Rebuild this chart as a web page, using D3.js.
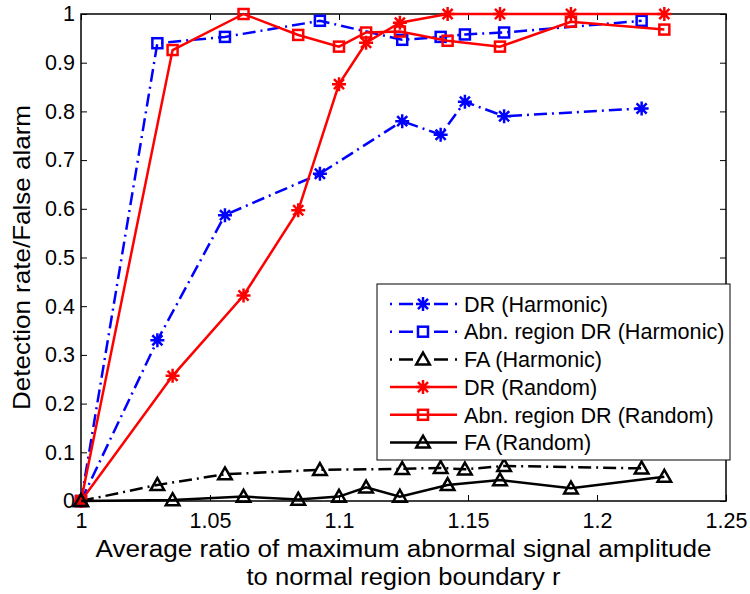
<!DOCTYPE html>
<html>
<head>
<meta charset="utf-8">
<script src="https://cdn.jsdelivr.net/npm/d3@7"></script>
<style>
  body { margin: 0; background: #fff; }
  text { font-family: "Liberation Sans", Arial, sans-serif; fill: #000; }
</style>
</head>
<body>
<div id="plot"></div>
<script>
// ---------------- data ----------------
const xHarmonic = [1, 1.0296, 1.0558, 1.0926, 1.1245, 1.1394, 1.1488, 1.164, 1.2173];
const drHarmonic = [0, 0.33, 0.587, 0.672, 0.78, 0.752, 0.82, 0.79, 0.806];
const abnHarmonic = [0, 0.94, 0.953, 0.986, 0.947, 0.953, 0.958, 0.962, 0.986];
const faHarmonic = [0, 0.033, 0.055, 0.064, 0.066, 0.068, 0.065, 0.072, 0.067];

const xRandom = [1, 1.0355, 1.063, 1.0842, 1.1, 1.1105, 1.1236, 1.1421, 1.1624, 1.1899, 1.2261];
const drRandom = [0, 0.257, 0.422, 0.597, 0.856, 0.941, 0.982, 1, 1, 1, 1];
const abnRandom = [0, 0.926, 1.0, 0.957, 0.933, 0.962, 0.964, 0.945, 0.933, 0.984, 0.968];
const faRandom = [0, 0.002, 0.009, 0.003, 0.009, 0.028, 0.009, 0.033, 0.043, 0.026, 0.05];

const xTicks = [1, 1.05, 1.1, 1.15, 1.2, 1.25];
const yTicks = [0, 0.1, 0.2, 0.3, 0.4, 0.5, 0.6, 0.7, 0.8, 0.9, 1];

const seriesNames = ["DR (Harmonic)", "Abn. region DR (Harmonic)", "FA (Harmonic)",
                     "DR (Random)", "Abn. region DR (Random)", "FA (Random)"];

const series = [
  {name: seriesNames[0], xs: xHarmonic, ys: drHarmonic, color: "#0000ff", dash: "13,5,2,5", marker: "star"},
  {name: seriesNames[1], xs: xHarmonic, ys: abnHarmonic, color: "#0000ff", dash: "13,5,2,5", marker: "square"},
  {name: seriesNames[2], xs: xHarmonic, ys: faHarmonic, color: "#000000", dash: "13,5,2,5", marker: "triangle"},
  {name: seriesNames[3], xs: xRandom, ys: drRandom, color: "#ff0000", dash: null, marker: "star"},
  {name: seriesNames[4], xs: xRandom, ys: abnRandom, color: "#ff0000", dash: null, marker: "square"},
  {name: seriesNames[5], xs: xRandom, ys: faRandom, color: "#000000", dash: null, marker: "triangle"}
];

// ---------------- plot ----------------
const w = 750, h = 594;
const mLeft = 81, mRight = 726, mTop = 14, mBottom = 501;

const x = d3.scaleLinear().domain([1, 1.25]).range([mLeft, mRight]);
const y = d3.scaleLinear().domain([0, 1]).range([mBottom, mTop]);

const svg = d3.select("#plot").append("svg")
  .attr("width", w).attr("height", h);

// axes (ticks inside, box on)
const fmt = d => String(+d.toFixed(2));
svg.append("g").attr("transform", "translate(0," + mBottom + ")")
  .call(d3.axisBottom(x).tickValues(xTicks).tickSize(-6).tickPadding(12).tickFormat(fmt))
  .call(g => g.select(".domain").remove());
svg.append("g").attr("transform", "translate(" + mLeft + ",0)")
  .call(d3.axisLeft(y).tickValues(yTicks).tickSize(-6).tickPadding(6).tickFormat(fmt))
  .call(g => g.select(".domain").remove());
svg.append("g").attr("transform", "translate(0," + mTop + ")")
  .call(d3.axisTop(x).tickValues(xTicks).tickSize(-6).tickFormat(""))
  .call(g => g.select(".domain").remove());
svg.append("g").attr("transform", "translate(" + mRight + ",0)")
  .call(d3.axisRight(y).tickValues(yTicks).tickSize(-6).tickFormat(""))
  .call(g => g.select(".domain").remove());
svg.selectAll(".tick line").attr("stroke", "#000").attr("stroke-width", 1);
svg.selectAll(".tick text").attr("font-size", 21.5).attr("font-family", "Liberation Sans, Arial, sans-serif");

svg.append("rect")
  .attr("x", mLeft).attr("y", mTop)
  .attr("width", mRight - mLeft).attr("height", mBottom - mTop)
  .attr("fill", "none").attr("stroke", "#000").attr("stroke-width", 1.5);

// markers
function drawMarker(g, type, cx, cy, color) {
  if (type === "star") {
    const r = 7, d = r * 0.72;
    const p = `M${cx - r},${cy}L${cx + r},${cy}M${cx},${cy - r}L${cx},${cy + r}` +
              `M${cx - d},${cy - d}L${cx + d},${cy + d}M${cx - d},${cy + d}L${cx + d},${cy - d}`;
    g.append("path").attr("d", p).attr("stroke", color).attr("stroke-width", 2.5).attr("fill", "none");
  } else if (type === "square") {
    const s = 10;
    g.append("rect").attr("x", cx - s / 2).attr("y", cy - s / 2).attr("width", s).attr("height", s)
      .attr("fill", "none").attr("stroke", color).attr("stroke-width", 2.5);
  } else {
    const a = 6.8;
    g.append("path").attr("d", `M${cx},${cy - a}L${cx + a},${cy + a * 0.75}L${cx - a},${cy + a * 0.75}Z`)
      .attr("fill", "none").attr("stroke", color).attr("stroke-width", 2.5).attr("stroke-linejoin", "miter");
  }
}

const line = d3.line().x(d => x(d[0])).y(d => y(d[1]));

series.forEach(s => {
  const pts = s.xs.map((v, i) => [v, s.ys[i]]);
  const g = svg.append("g");
  g.append("path").datum(pts)
    .attr("d", line)
    .attr("fill", "none")
    .attr("stroke", s.color)
    .attr("stroke-width", 2.5)
    .attr("stroke-dasharray", s.dash);
  pts.forEach(p => drawMarker(g, s.marker, x(p[0]), y(p[1]), s.color));
});

// axis labels
svg.append("text")
  .attr("transform", "translate(30," + ((mTop + mBottom) / 2) + ") rotate(-90)")
  .attr("text-anchor", "middle").attr("font-size", 24)
  .attr("textLength", 305).attr("lengthAdjust", "spacingAndGlyphs")
  .text("Detection rate/False alarm");
svg.append("text")
  .attr("x", (mLeft + mRight) / 2).attr("y", 557)
  .attr("text-anchor", "middle").attr("font-size", 23)
  .attr("textLength", 616).attr("lengthAdjust", "spacingAndGlyphs")
  .text("Average ratio of maximum abnormal signal amplitude");
svg.append("text")
  .attr("x", (mLeft + mRight) / 2).attr("y", 585)
  .attr("text-anchor", "middle").attr("font-size", 23)
  .attr("textLength", 314).attr("lengthAdjust", "spacingAndGlyphs")
  .text("to normal region boundary r");

// legend
const lg = svg.append("g").attr("id", "legend");
lg.append("rect")
  .attr("x", 377).attr("y", 284).attr("width", 353).attr("height", 176)
  .attr("fill", "#fff").attr("stroke", "#000").attr("stroke-width", 1);
series.forEach((s, i) => {
  const cy = 304 + i * 27.7;
  lg.append("line")
    .attr("x1", 390).attr("x2", 457).attr("y1", cy).attr("y2", cy)
    .attr("stroke", s.color).attr("stroke-width", 2.5)
    .attr("stroke-dasharray", s.dash ? "2,7,14,21,14,7,2" : null);
  drawMarker(lg, s.marker, 423, cy, s.color);
  lg.append("text")
    .attr("x", 464).attr("y", cy).attr("dy", "0.36em")
    .attr("font-size", 21.6)
    .text(s.name);
});
</script>
</body>
</html>
